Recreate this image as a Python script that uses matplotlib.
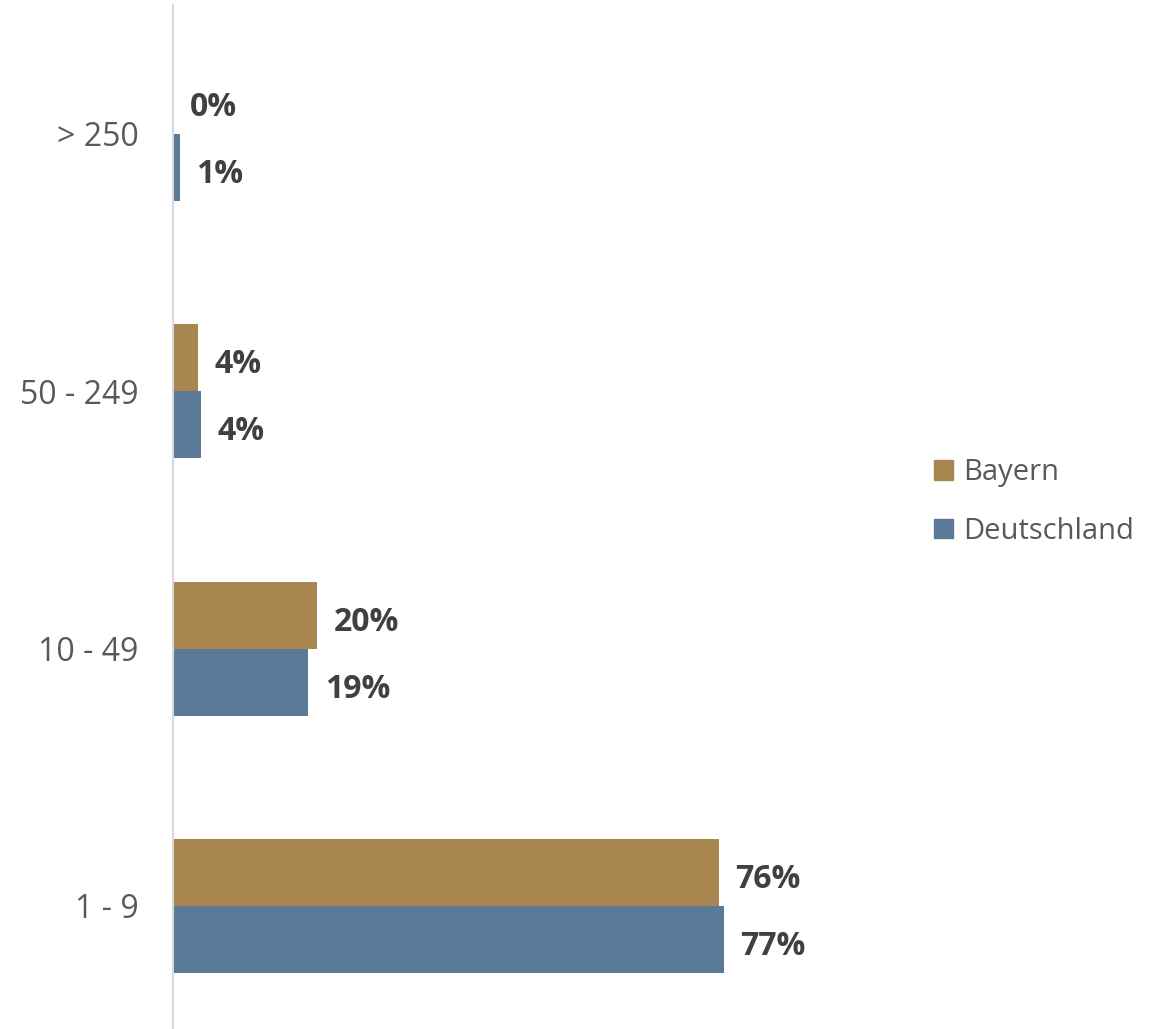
import numpy as np
import matplotlib.pyplot as plt
from matplotlib.patches import Patch

plt.rcParams['font.family'] = ['Open Sans', 'DejaVu Sans']

# company size classes (employees), bottom to top
categories = ['1 - 9', '10 - 49', '50 - 249', '> 250']
bayern = [76.3, 20.1, 3.5, 0.0]
deutschland = [77.0, 18.9, 3.9, 0.9]
series_names = ['Bayern', 'Deutschland']

col_by = '#A9864F'
col_de = '#5B7A97'

fig = plt.figure(figsize=(11.61, 10.29), dpi=100)
ax = fig.add_axes([173.3 / 1161, 0.0, 715 / 1161, 1 - 5.3 / 1029])

y = np.arange(len(categories))
h = 0.26
b1 = ax.barh(y + h / 2, bayern, height=h, color=col_by)
b2 = ax.barh(y - h / 2, deutschland, height=h, color=col_de)

# value labels sit with their baseline a bit below the bar centre
for bars, vals in ((b1, bayern), (b2, deutschland)):
    for bar, v in zip(bars, vals):
        ax.annotate(f'{v:.0f}%', (v, bar.get_y() + bar.get_height() / 2),
                    xytext=(12.0, -11.2), textcoords='offset points',
                    ha='left', va='baseline', fontsize=23, fontweight='bold',
                    color='#404040')

ax.set_xlim(0, 100)
ax.set_ylim(-0.478, 3.5)
ax.set_yticks(y)
ax.set_yticklabels(categories, fontsize=23, color='#595959')
ax.tick_params(axis='y', length=0, pad=25)
ax.set_xticks([])
for s in ('top', 'right', 'bottom'):
    ax.spines[s].set_visible(False)
ax.spines['left'].set_color('#D9D9D9')
ax.spines['left'].set_linewidth(1.5)

handles = [Patch(color=col_by), Patch(color=col_de)]
fig.legend(handles, series_names, loc='center left',
           bbox_to_anchor=(934 / 1161, 1 - 502 / 1029),
           frameon=False, fontsize=21, labelcolor='#595959',
           handlelength=0.65, handleheight=0.65, handletextpad=0.34,
           labelspacing=1.0, borderpad=0, borderaxespad=0)

fig.savefig('out.png', dpi=100)
